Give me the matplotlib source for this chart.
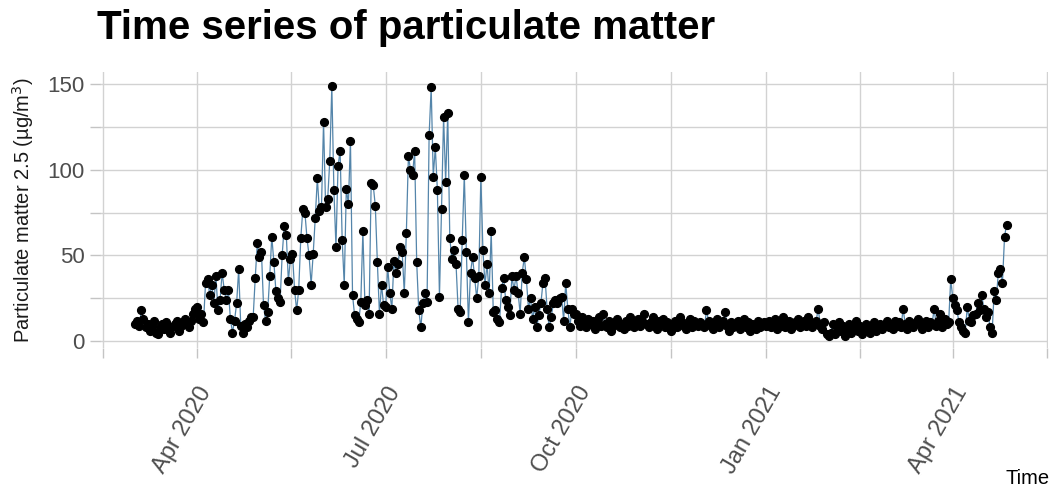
import numpy as np
import pandas as pd
import matplotlib
matplotlib.use("Agg")
import matplotlib.pyplot as plt
import matplotlib.dates as mdates
import matplotlib.transforms as mtransforms

# daily PM2.5 readings
pm_2020_03 = [10, 12, 9, 18, 13, 8, 10, 6, 9, 12, 5, 4, 8, 10, 7, 11, 9, 5, 8, 10,
              12, 6, 9, 11, 13, 10, 8, 12, 16, 19]  # starts Mar 2
pm_2020_04 = [20, 13, 16, 11, 34, 36, 27, 33, 22, 38, 18, 24, 40, 30, 24, 30, 13, 5, 12, 22,
              42, 9, 5, 10, 8, 12, 14, 14, 37, 57]
pm_2020_05 = [49, 52, 21, 12, 17, 38, 61, 46, 29, 25, 23, 50, 67, 62, 35, 48, 51, 30, 18, 30,
              60, 77, 75, 60, 50, 33, 51, 72, 95, 76, 78]
pm_2020_06 = [128, 78, 83, 105, 149, 88, 55, 102, 111, 59, 33, 89, 80, 117, 27, 15, 13, 11, 23, 64,
              21, 24, 16, 92, 91, 79, 46, 16, 33, 21]
pm_2020_07 = [20, 43, 28, 19, 47, 40, 45, 55, 52, 28, 63, 108, 100, 97, 111, 46, 18, 8, 22, 28,
              23, 120, 148, 96, 113, 88, 26, 77, 131, 93, 133]
pm_2020_08 = [60, 48, 53, 45, 19, 17, 59, 97, 52, 11, 40, 49, 37, 25, 38, 96, 53, 33, 45, 28,
              64, 17, 18, 13, 11, 31, 37, 24, 20, 15, 38]
pm_2020_09 = [30, 38, 28, 16, 40, 49, 36, 19, 25, 13, 20, 8, 15, 22, 34, 37, 19, 8, 14, 22,
              24, 22, 25, 26, 12, 34, 19, 8, 19, 16]
pm_2020_10 = [16, 12, 9, 14, 11, 8, 13, 10, 12, 7, 11, 14, 9, 16, 10, 8, 12, 6, 9, 11,
              13, 8, 10, 7, 12, 9, 14, 11, 8, 10, 13]
pm_2020_11 = [9, 12, 16, 10, 8, 11, 14, 9, 7, 12, 10, 13, 8, 11, 9, 6, 10, 12, 8, 14,
              11, 9, 7, 10, 13, 8, 12, 10, 9, 11]
pm_2020_12 = [10, 8, 18, 12, 9, 7, 11, 13, 8, 10, 12, 17, 9, 6, 11, 8, 10, 12, 7, 9,
              13, 8, 11, 6, 10, 9, 7, 12, 8, 10, 11]
pm_2021_01 = [9, 12, 8, 10, 13, 7, 11, 9, 14, 8, 10, 12, 7, 9, 11, 13, 8, 10, 12, 9,
              14, 11, 8, 10, 12, 19, 9, 7, 11, 4, 3]
pm_2021_02 = [5, 10, 4, 8, 11, 6, 9, 3, 7, 10, 5, 8, 12, 6, 9, 4, 7, 10, 8, 5,
              9, 11, 6, 8, 10, 7, 9, 12]
pm_2021_03 = [8, 10, 7, 12, 9, 11, 8, 19, 10, 7, 12, 9, 8, 11, 13, 10, 7, 9, 12, 8,
              11, 10, 19, 9, 12, 16, 8, 13, 10, 11, 36]
pm_2021_04 = [25, 21, 18, 11, 8, 6, 5, 20, 12, 11, 15, 16, 22, 18, 27, 19, 14, 17, 8, 5,
              29, 24, 40, 42, 34, 61, 68]  # ends Apr 27

pm = (pm_2020_03 + pm_2020_04 + pm_2020_05 + pm_2020_06 + pm_2020_07 + pm_2020_08
      + pm_2020_09 + pm_2020_10 + pm_2020_11 + pm_2020_12 + pm_2021_01 + pm_2021_02
      + pm_2021_03 + pm_2021_04)
dates = pd.date_range("2020-03-02", periods=len(pm), freq="D")

tick_dates = ["2020-01-01", "2020-04-01", "2020-07-01", "2020-10-01",
              "2021-01-01", "2021-04-01", "2021-07-01"]
tick_labels = ["Apr 2020", "Jul 2020", "Oct 2020", "Jan 2021", "Apr 2021"]

plt.rcParams["font.family"] = ["Liberation Sans", "DejaVu Sans"]

fig = plt.figure(figsize=(10.55, 4.91), dpi=100)
ax = fig.add_axes([100 / 1055, 143 / 491, 948 / 1055, 276 / 491])

ax.plot(dates, pm, color="#5485aa", lw=0.9, zorder=2)
ax.plot(dates, pm, "o", color="black", ms=5.6, zorder=3)

# major / minor breaks like ggplot (minor = midpoints)
tnum = mdates.date2num(pd.to_datetime(tick_dates))
major = tnum[1:-1]
minor = (tnum[:-1] + tnum[1:]) / 2
ax.set_xticks(major)
ax.set_xticklabels(tick_labels)
ax.set_xticks(minor, minor=True)
ax.set_xlim(mdates.date2num(pd.Timestamp("2020-02-14")),
            mdates.date2num(pd.Timestamp("2021-05-17")))

ax.set_ylim(-4, 157)
ax.set_yticks([0, 50, 100, 150])
ax.set_yticks([25, 75, 125], minor=True)

ax.grid(True, which="both", color="#d2d2d2", lw=1.0, zorder=0)
for s in ax.spines.values():
    s.set_visible(False)

ax.tick_params(which="both", color="#c4c4c4", length=7, width=1)
ax.tick_params(axis="y", which="major", labelsize=16, labelcolor="#4d4d4d", pad=4)
ax.tick_params(axis="x", which="major", labelsize=17, labelcolor="#4d4d4d", pad=18)
shift = mtransforms.ScaledTranslation(0.19, 0, fig.dpi_scale_trans)
for lab in ax.get_xticklabels():
    lab.set_rotation(60)
    lab.set_ha("right")
    lab.set_va("top")
    lab.set_transform(lab.get_transform() + shift)

ax.set_ylabel("Particulate matter 2.5 (µg/m$^3$)", fontsize=14.5, color="#1a1a1a")
ax.yaxis.set_label_coords(-64 / 948, 0.5)

fig.text(97 / 1055, 1 - 28 / 491, "Time series of particulate matter",
         fontsize=29, fontweight="bold", ha="left", va="center")
fig.text(1050 / 1055, 1 - 479 / 491, "Time", fontsize=14.5, ha="right", va="center")

fig.savefig("out.png", dpi=100)
